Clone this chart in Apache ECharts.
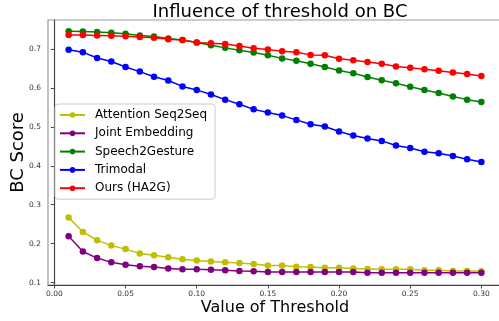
<!DOCTYPE html>
<html>
<head>
<meta charset="utf-8">
<script src="https://cdn.jsdelivr.net/npm/echarts@6/dist/echarts.min.js"></script>
<style>
html,body{margin:0;padding:0;background:#fff;}
#chart{width:499px;height:321px;}
</style>
</head>
<body>
<div id="chart"></div>
<script>
const thresholds = [0.01,0.02,0.03,0.04,0.05,0.06,0.07,0.08,0.09,0.10,0.11,0.12,0.13,0.14,0.15,0.16,0.17,0.18,0.19,0.20,0.21,0.22,0.23,0.24,0.25,0.26,0.27,0.28,0.29,0.30];
const attentionSeq2Seq = [0.267,0.230,0.209,0.195,0.186,0.175,0.170,0.165,0.160,0.157,0.154,0.152,0.150,0.148,0.144,0.144,0.141,0.140,0.138,0.138,0.136,0.135,0.134,0.134,0.134,0.132,0.132,0.130,0.130,0.129];
const jointEmbedding = [0.219,0.180,0.163,0.152,0.146,0.142,0.140,0.136,0.134,0.134,0.133,0.132,0.130,0.129,0.127,0.127,0.127,0.127,0.127,0.127,0.127,0.125,0.125,0.125,0.125,0.125,0.125,0.125,0.125,0.125];
const speech2Gesture = [0.746,0.745,0.744,0.742,0.739,0.735,0.732,0.727,0.723,0.717,0.710,0.703,0.697,0.691,0.684,0.676,0.670,0.662,0.654,0.645,0.638,0.628,0.620,0.612,0.603,0.595,0.587,0.578,0.570,0.564];
const trimodal = [0.698,0.692,0.677,0.668,0.654,0.642,0.629,0.619,0.604,0.595,0.583,0.570,0.558,0.545,0.537,0.529,0.518,0.507,0.501,0.488,0.478,0.470,0.464,0.452,0.446,0.436,0.432,0.425,0.417,0.410];
const oursHA2G = [0.736,0.736,0.735,0.734,0.733,0.731,0.729,0.725,0.723,0.717,0.715,0.713,0.708,0.702,0.699,0.694,0.692,0.685,0.684,0.675,0.671,0.667,0.662,0.655,0.652,0.648,0.644,0.640,0.636,0.631];
const xTicks = [0.00,0.05,0.10,0.15,0.20,0.25,0.30];
const yTicks = [0.1,0.2,0.3,0.4,0.5,0.6,0.7];
const seriesNames = ['Attention Seq2Seq','Joint Embedding','Speech2Gesture','Trimodal','Ours (HA2G)'];
const seriesColors = ['#bfbf00','#800080','#008000','#0000ff','#ff0000'];
const seriesValues = [attentionSeq2Seq, jointEmbedding, speech2Gesture, trimodal, oursHA2G];

const FONT = 'DejaVu Sans';
const chart = echarts.init(document.getElementById('chart'), null, {renderer:'canvas'});
const option = {
  animation: false,
  backgroundColor: '#fff',
  textStyle: {fontFamily: FONT},
  title: {
    text: 'Influence of threshold on BC',
    left: 275, top: -2, textAlign: 'center',
    textStyle: {fontFamily: FONT, fontSize: 18, fontWeight: 'normal', color: '#000'}
  },
  grid: {
    left: 48, top: 20, right: -3, bottom: 36,
    containLabel: false, outerBoundsMode: 'none',
    show: true, borderColor: '#999', borderWidth: 1.2, backgroundColor: 'transparent'
  },
  legend: {
    orient: 'vertical',
    left: 55, top: 104,
    width: 159,
    padding: [4, 8, 4, 4],
    itemGap: 4.3,
    itemWidth: 25, itemHeight: 7,
    backgroundColor: 'rgba(255,255,255,0.8)',
    borderColor: '#ccc', borderWidth: 1, borderRadius: 3,
    textStyle: {fontFamily: FONT, fontSize: 12, color: '#000', lineHeight: 14, padding: [0,0,0,5]},
    data: seriesNames
  },
  xAxis: {
    type: 'value', min: -0.0045, max: 0.3145,
    name: 'Value of Threshold', nameLocation: 'middle', nameGap: 15, nameMoveOverlap: false,
    nameTextStyle: {fontFamily: FONT, fontSize: 16, color: '#000'},
    axisLine: {lineStyle: {color: '#444', width: 1.2}},
    axisTick: {show: true, length: 3.5, inside: false, customValues: xTicks, lineStyle: {color: '#444'}},
    axisLabel: {customValues: xTicks, margin: 5, fontFamily: FONT, fontSize: 7.5, color: '#333',
      formatter: v => v.toFixed(2)},
    splitLine: {show: false}
  },
  yAxis: {
    type: 'value', min: 0.0938, max: 0.7746,
    name: 'BC Score', nameLocation: 'middle', nameGap: 21, nameMoveOverlap: false,
    nameTextStyle: {fontFamily: FONT, fontSize: 18, color: '#000'},
    axisLine: {show: true, lineStyle: {color: '#444', width: 1.2}},
    axisTick: {show: true, length: 3.5, inside: false, customValues: yTicks, lineStyle: {color: '#444'}},
    axisLabel: {customValues: yTicks, margin: 7, fontFamily: FONT, fontSize: 7.5, color: '#333',
      formatter: v => v.toFixed(1)},
    splitLine: {show: false}
  },
  series: seriesNames.map((name, i) => ({
    name: name,
    type: 'line',
    data: thresholds.map((t, j) => [t, seriesValues[i][j]]),
    symbol: 'circle', symbolSize: 6.5,
    showSymbol: true,
    lineStyle: {color: seriesColors[i], width: 1.5},
    itemStyle: {color: seriesColors[i]},
    emphasis: {disabled: true}
  }))
};
chart.setOption(option);
</script>
</body>
</html>
